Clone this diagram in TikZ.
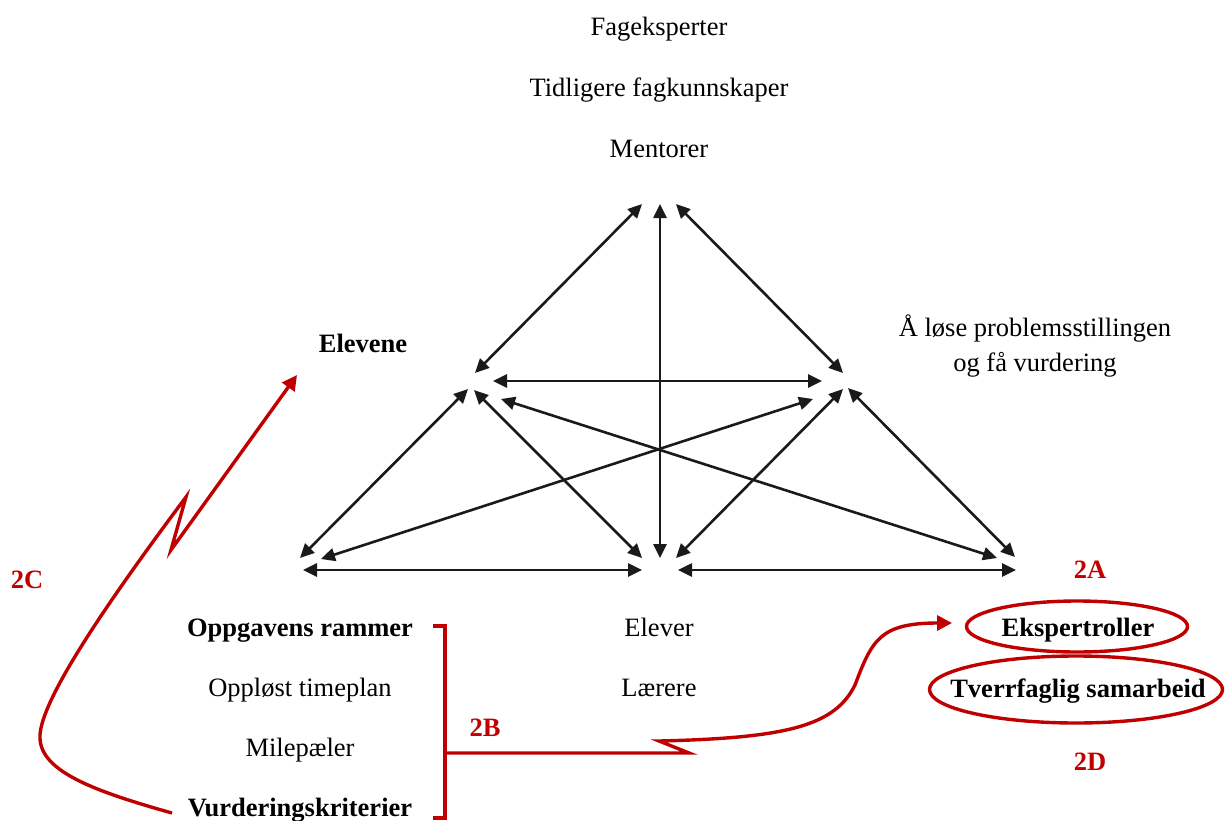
\documentclass[tikz,border=0pt]{standalone}
\usepackage{fontspec}
\setmainfont{Liberation Serif}
\usetikzlibrary{arrows.meta,shapes.geometric}
\definecolor{accent}{RGB}{192,0,0}
\definecolor{ink}{RGB}{26,26,26}
\begin{document}
\begin{tikzpicture}[x=1pt,y=-1pt,
  lbl/.style={font=\fontsize{26.5}{30}\selectfont, anchor=base, inner sep=0pt},
  lblb/.style={lbl, font=\fontsize{26.5}{30}\selectfont\bfseries},
  tag/.style={lblb, text=accent},
  link/.style={draw=ink, line width=2.6pt,
    {Triangle[length=14pt,width=13pt]}-{Triangle[length=14pt,width=13pt]}},
  redline/.style={draw=accent, line width=3.4pt},
  redarrow/.style={redline, -{Triangle[length=15pt,width=15pt]}},
  oval/.style={ellipse, draw=accent, line width=3.4pt, inner sep=0pt},
]
\useasboundingbox (0,0) rectangle (1225,821);

% resources at the top
\node[lbl] (fag) at (659,36) {Fageksperter};
\node[lbl] (tid) at (659,97) {Tidligere fagkunnskaper};
\node[lbl] (men) at (659,158) {Mentorer};

% side labels
\node[lblb] (elevene) at (363,352) {Elevene};
\node[lbl] (loese) at (1035,336) {Å løse problemsstillingen};
\node[lbl] (vurd) at (1035,371) {og få vurdering};

% task frame list
\node[lblb] (ramme) at (300,636) {Oppgavens rammer};
\node[lbl] (timeplan) at (300,696) {Oppløst timeplan};
\node[lbl] (mile) at (300,756) {Milepæler};
\node[lblb] (krit) at (300,816) {Vurderingskriterier};

% people
\node[lbl] (elever) at (659,636) {Elever};
\node[lbl] (laerere) at (659,696) {Lærere};

% roles
\node[oval, minimum width=221pt, minimum height=51pt] (eksring) at (1077,626.5) {};
\node[oval, minimum width=293pt, minimum height=67pt] (tverring) at (1076,689.5) {};
\node[lblb] (eks) at (1078,636) {Ekspertroller};
\node[lblb] (tverr) at (1078,697) {Tverrfaglig samarbeid};

% red tags
\node[tag] (t2a) at (1090,578) {2A};
\node[tag] (t2b) at (485,736) {2B};
\node[tag] (t2c) at (27,588) {2C};
\node[tag] (t2d) at (1090,770) {2D};

% arrow end points of the triangle
\coordinate (tA) at (642,204);
\coordinate (tB) at (660,204);
\coordinate (tC) at (676,204);
\coordinate (lA) at (475,373);
\coordinate (lB) at (493,381);
\coordinate (lC) at (468,389);
\coordinate (lD) at (474,390);
\coordinate (lE) at (501,399);
\coordinate (rA) at (843,373);
\coordinate (rB) at (822,381);
\coordinate (rC) at (843,389);
\coordinate (rD) at (848,388);
\coordinate (rE) at (813,399);
\coordinate (bL1) at (300,558);
\coordinate (bL2) at (321,559);
\coordinate (bL3) at (303,570);
\coordinate (bM1) at (642,558);
\coordinate (bM2) at (660,558);
\coordinate (bM3) at (676,558);
\coordinate (bM4) at (642,570);
\coordinate (bM5) at (678,570);
\coordinate (bR1) at (997,558);
\coordinate (bR2) at (1015,557);
\coordinate (bR3) at (1016,570);

% double-headed links
\draw[link] (lA) -- (tA);
\draw[link] (bM2) -- (tB);
\draw[link] (rA) -- (tC);
\draw[link] (lB) -- (rB);
\draw[link] (bL1) -- (lC);
\draw[link] (lD) -- (bM1);
\draw[link] (lE) -- (bR1);
\draw[link] (bL2) -- (rE);
\draw[link] (bM3) -- (rC);
\draw[link] (rD) -- (bR2);
\draw[link] (bL3) -- (bM4);
\draw[link] (bM5) -- (bR3);

% bracket around the task frame list
\coordinate (brTop) at (445,626);
\coordinate (brBot) at (445,818);
\coordinate (brMid) at (445,753);
\draw[redline] ([xshift=-12pt]brTop) -- (brTop) -- (brBot) -- ([xshift=-12pt]brBot);

% 2B: from the bracket to the expert roles
\coordinate (zigB1) at (689,753);
\coordinate (zigB2) at (659,741);
\coordinate (eksIn) at (952,623);
\draw[redarrow] (brMid) -- (zigB1) -- (zigB2)
  .. controls (790,738) and (835,725) .. (855,685)
  .. controls (872,640) and (880,623) .. (eksIn);

% 2C: from the assessment criteria to the pupils
\coordinate (kritOut) at (172,813);
\coordinate (zigC1) at (186,497);
\coordinate (zigC2) at (171,550);
\coordinate (eleveneIn) at (297,375);
\draw[redarrow] (kritOut)
  .. controls (90,790) and (38,770) .. (40,735)
  .. controls (42,700) and (100,612) .. (zigC1)
  -- (zigC2) -- (eleveneIn);
\end{tikzpicture}
\end{document}
